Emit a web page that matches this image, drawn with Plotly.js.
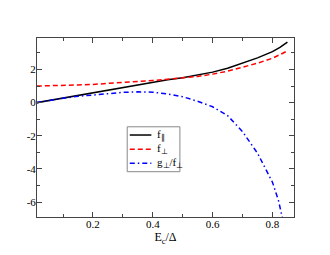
<!DOCTYPE html>
<html>
<head>
<meta charset="utf-8">
<script src="https://cdn.plot.ly/plotly-3.0.1.min.js"></script>
<style>html,body{margin:0;padding:0;background:#fff;}#chart{width:330px;height:255px;}</style>
</head>
<body>
<div id="chart"></div>
<script>
const xPar = [0.0125, 0.05, 0.1, 0.15, 0.2, 0.25, 0.3, 0.35, 0.4, 0.45, 0.5, 0.55, 0.6, 0.65, 0.7, 0.75, 0.8, 0.825, 0.85];
const fPar = [0.0, 0.12, 0.30, 0.46, 0.61, 0.77, 0.93, 1.09, 1.24, 1.38, 1.50, 1.66, 1.84, 2.08, 2.38, 2.70, 3.08, 3.33, 3.65];
const xPerp = [0.0125, 0.05, 0.1, 0.15, 0.2, 0.25, 0.3, 0.35, 0.4, 0.45, 0.5, 0.55, 0.6, 0.65, 0.7, 0.75, 0.8, 0.825, 0.85];
const fPerp = [1.0, 1.01, 1.04, 1.07, 1.10, 1.15, 1.22, 1.28, 1.34, 1.41, 1.48, 1.58, 1.72, 1.90, 2.14, 2.38, 2.68, 2.88, 3.12];
const xRatio = [0.0125, 0.05, 0.1, 0.15, 0.2, 0.25, 0.3, 0.35, 0.4, 0.45, 0.5, 0.55, 0.6, 0.65, 0.7, 0.75, 0.8, 0.82, 0.84];
const gRatio = [0.0, 0.12, 0.27, 0.38, 0.47, 0.55, 0.62, 0.65, 0.63, 0.52, 0.36, 0.08, -0.25, -0.78, -1.75, -3.05, -4.8, -5.9, -7.5];
const names = ["f<sub>∥</sub>", "f<sub>⊥</sub>", "g<sub>⊥</sub>/f<sub>⊥</sub>"];
const xTickVals = [0.2, 0.4, 0.6, 0.8];
const xTickText = ["0.2", "0.4", "0.6", "0.8"];
const yTickVals = [-6, -4, -2, 0, 2];
const yTickText = ["-6", "-4", "-2", "0", "2"];
const xTitle = "E<sub>c</sub>/Δ";

const font = "Liberation Serif";
const colors = ["#000000", "#ff0000", "#0000ff"];
const dashes = ["solid", "5px,3px", "5px,3px,1.5px,3px"];
const traces = [
  {x: xPar, y: fPar, name: names[0], mode: "lines", line: {color: colors[0], width: 1.5, dash: dashes[0]}},
  {x: xPerp, y: fPerp, name: names[1], mode: "lines", line: {color: colors[1], width: 1.5, dash: dashes[1]}},
  {x: xRatio, y: gRatio, name: names[2], mode: "lines", line: {color: colors[2], width: 1.5, dash: dashes[2]}}
];

// hand-drawn legend box (paper coordinates)
const leg = {x0: 0.351, x1: 0.556, y0: 0.253, y1: 0.504, lx0: 0.361, lx1: 0.445, tx: 0.462, rows: [0.458, 0.378, 0.300]};
const shapes = [{type: "rect", xref: "paper", yref: "paper", x0: leg.x0, x1: leg.x1, y0: leg.y0, y1: leg.y1,
  line: {color: "#888", width: 1}, fillcolor: "#fff", layer: "above"}];
const annotations = [];
traces.forEach((t, i) => {
  shapes.push({type: "line", xref: "paper", yref: "paper", x0: leg.lx0, x1: leg.lx1, y0: leg.rows[i], y1: leg.rows[i],
    line: {color: t.line.color, width: 1.5, dash: t.line.dash}, layer: "above"});
  annotations.push({xref: "paper", yref: "paper", x: leg.tx, y: leg.rows[i], xanchor: "left", yanchor: "middle",
    text: t.name, showarrow: false, font: {family: font, size: 11, color: "#000"}, borderpad: 0});
});

const axisCommon = {
  showline: true, linecolor: "#444", linewidth: 1, mirror: "ticks",
  ticks: "inside", ticklen: 5, tickcolor: "#444", tickwidth: 1,
  showgrid: false, zeroline: false,
  tickfont: {family: font, size: 11, color: "#000"}
};
const layout = {
  width: 330, height: 255,
  margin: {l: 37, r: 36, t: 38, b: 38, pad: 0},
  paper_bgcolor: "#fff", plot_bgcolor: "#fff",
  font: {family: font},
  showlegend: false,
  shapes: shapes, annotations: annotations,
  xaxis: Object.assign({}, axisCommon, {
    range: [0.013, 0.872], tickmode: "array", tickvals: xTickVals, ticktext: xTickText,
    ticklabelstandoff: -3,
    minor: {dtick: 0.1, tick0: 0, ticks: "inside", ticklen: 3, tickcolor: "#444"},
    title: {text: xTitle, font: {family: font, size: 12, color: "#000"}, standoff: 0}
  }),
  yaxis: Object.assign({}, axisCommon, {
    range: [-6.9, 3.9], tickmode: "array", tickvals: yTickVals, ticktext: yTickText,
    ticklabelstandoff: -2,
    minor: {dtick: 1, tick0: 0, ticks: "inside", ticklen: 3, tickcolor: "#444"}
  })
};
Plotly.newPlot("chart", traces, layout, {displayModeBar: false, staticPlot: true});
</script>
</body>
</html>
